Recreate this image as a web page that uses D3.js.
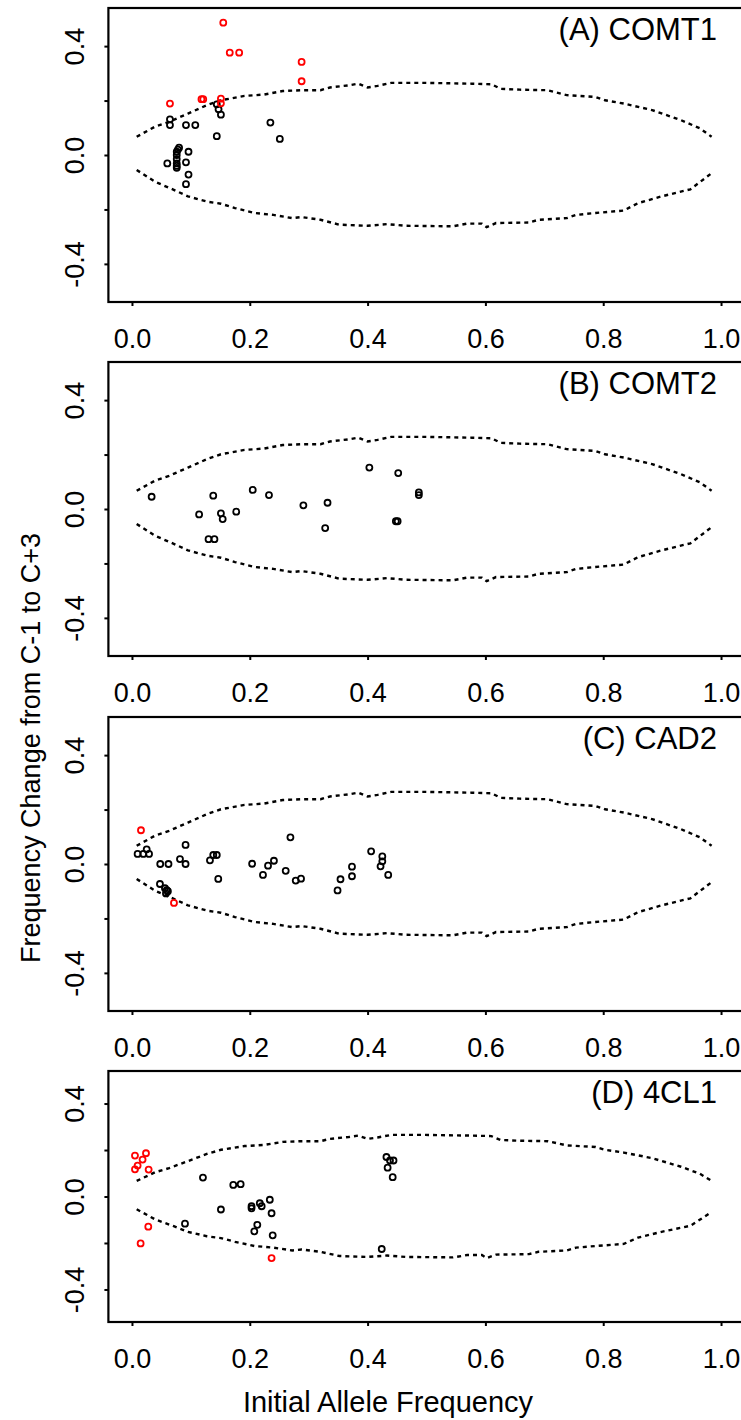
<!DOCTYPE html>
<html><head><meta charset="utf-8">
<script src="https://cdn.jsdelivr.net/npm/d3@7"></script>
<style>html,body{margin:0;padding:0;background:#fff;} svg{display:block;} text{font-family:"Liberation Sans",Arial,sans-serif;fill:#000;}</style>
</head><body>
<script>
// ---- data ----
const xTicks = [0, 0.2, 0.4, 0.6, 0.8, 1.0];
const xTickLabels = ["0.0", "0.2", "0.4", "0.6", "0.8", "1.0"];
const yTicks = [-0.4, -0.2, 0, 0.2, 0.4];
const yTickLabels = ["-0.4", "", "0.0", "", "0.4"];
const panelLabels = ["(A) COMT1", "(B) COMT2", "(C) CAD2", "(D) 4CL1"];
const xTitle = "Initial Allele Frequency";
const yTitle = "Frequency Change from C-1 to C+3";

// envelope (dotted boundary)
const envUpperX = [0.008,0.039,0.063,0.095,0.127,0.151,0.191,0.224,0.256,0.288,0.32,0.336,0.368,0.384,0.4,0.417,0.44,0.497,0.577,0.61,0.626,0.658,0.706,0.738,0.787,0.803,0.835,0.883,0.932,0.964,0.984];
const envUpperY = [0.067,0.104,0.122,0.152,0.183,0.201,0.217,0.222,0.235,0.238,0.238,0.248,0.256,0.262,0.248,0.254,0.265,0.265,0.262,0.26,0.243,0.24,0.238,0.22,0.213,0.201,0.189,0.165,0.128,0.098,0.067];
const envLowerX = [0.008,0.039,0.071,0.095,0.127,0.151,0.175,0.208,0.24,0.272,0.288,0.32,0.352,0.4,0.433,0.465,0.545,0.569,0.594,0.602,0.618,0.674,0.69,0.738,0.754,0.787,0.835,0.859,0.899,0.948,0.984];
const envLowerY = [-0.055,-0.098,-0.128,-0.152,-0.171,-0.179,-0.195,-0.213,-0.22,-0.232,-0.228,-0.238,-0.256,-0.26,-0.254,-0.26,-0.262,-0.252,-0.252,-0.265,-0.25,-0.248,-0.238,-0.232,-0.22,-0.213,-0.204,-0.177,-0.152,-0.126,-0.067];

// (A) COMT1
const comt1BlackX = [0.0645,0.0645,0.0917,0.1075,0.144,0.147,0.151,0.144,0.235,0.251,0.080,0.076,0.096,0.076,0.076,0.060,0.076,0.0917,0.076,0.096,0.0917,0.078,0.076];
const comt1BlackY = [0.131,0.110,0.110,0.110,0.186,0.168,0.148,0.069,0.119,0.059,0.027,0.012,0.012,0.0,-0.015,-0.031,-0.031,-0.027,-0.047,-0.072,-0.107,0.020,-0.040];
const comt1RedX = [0.155,0.166,0.182,0.288,0.288,0.0645,0.118,0.121,0.151,0.151];
const comt1RedY = [0.486,0.376,0.376,0.342,0.271,0.189,0.205,0.205,0.207,0.190];

// (B) COMT2
const comt2BlackX = [0.0334,0.114,0.138,0.151,0.154,0.177,0.130,0.140,0.205,0.2326,0.291,0.332,0.328,0.403,0.452,0.448,0.451,0.487,0.487];
const comt2BlackY = [0.045,-0.020,0.049,-0.016,-0.037,-0.010,-0.111,-0.111,0.070,0.051,0.0135,0.023,-0.070,0.152,0.132,-0.045,-0.045,0.061,0.051];
const comt2RedX = [];
const comt2RedY = [];

// (C) CAD2
const cad2BlackX = [0.0096,0.0193,0.025,0.029,0.048,0.062,0.0815,0.091,0.091,0.0475,0.056,0.059,0.0577,0.061,0.1324,0.138,0.144,0.1465,0.204,0.2224,0.231,0.241,0.261,0.269,0.278,0.287,0.349,0.354,0.3735,0.3735,0.406,0.425,0.425,0.422,0.435];
const cad2BlackY = [0.037,0.037,0.054,0.037,0.0,0.0,0.018,0.070,0.0,-0.0735,-0.089,-0.096,-0.108,-0.100,0.0135,0.033,0.033,-0.055,0.001,-0.040,-0.006,0.012,-0.025,0.098,-0.061,-0.054,-0.097,-0.056,-0.010,-0.045,0.0466,0.028,0.010,-0.0085,-0.040];
const cad2RedX = [0.0153,0.0713];
const cad2RedY = [0.124,-0.143];

// (D) 4CL1
const cl1BlackX = [0.1205,0.172,0.1845,0.151,0.090,0.203,0.203,0.217,0.2202,0.234,0.237,0.2128,0.2077,0.2389,0.432,0.438,0.444,0.434,0.4426,0.424];
const cl1BlackY = [0.0815,0.050,0.053,-0.056,-0.117,-0.042,-0.051,-0.029,-0.042,-0.014,-0.072,-0.122,-0.150,-0.167,0.170,0.155,0.155,0.124,0.083,-0.226];
const cl1RedX = [0.0051,0.0238,0.018,0.0096,0.0051,0.0283,0.0277,0.0147,0.237];
const cl1RedY = [0.176,0.186,0.159,0.133,0.117,0.116,-0.130,-0.202,-0.265];

const panels = [
  {label: panelLabels[0], bx: comt1BlackX, by: comt1BlackY, rx: comt1RedX, ry: comt1RedY, top: 8, bottom: 302},
  {label: panelLabels[1], bx: comt2BlackX, by: comt2BlackY, rx: comt2RedX, ry: comt2RedY, top: 362, bottom: 656},
  {label: panelLabels[2], bx: cad2BlackX, by: cad2BlackY, rx: cad2RedX, ry: cad2RedY, top: 717, bottom: 1011},
  {label: panelLabels[3], bx: cl1BlackX, by: cl1BlackY, rx: cl1RedX, ry: cl1RedY, top: 1071, bottom: 1322}
];

// ---- drawing ----
const W = 741, H = 1420;
const FONT = "'Liberation Sans', Arial, sans-serif";
const svg = d3.select("body").append("svg").attr("width", W).attr("height", H);
const x = d3.scaleLinear().domain([-0.04, 1.04]).range([108.4, 744.6]);
const upper = d3.zip(envUpperX, envUpperY);
const lower = d3.zip(envLowerX, envLowerY);

panels.forEach(p => {
  const y = d3.scaleLinear().domain([-0.54, 0.54]).range([p.bottom, p.top]);
  const g = svg.append("g");
  g.append("rect").attr("x", x.range()[0]).attr("y", p.top)
    .attr("width", x.range()[1] - x.range()[0]).attr("height", p.bottom - p.top)
    .attr("fill", "none").attr("stroke", "#000").attr("stroke-width", 2.2);

  // x axis
  const xa = g.append("g").attr("transform", `translate(0,${p.bottom})`)
    .call(d3.axisBottom(x).tickValues(xTicks).tickSize(4).tickFormat((d, i) => xTickLabels[i]));
  xa.select(".domain").remove();
  xa.selectAll("line").attr("stroke", "#000").attr("stroke-width", 2);
  xa.selectAll("text").attr("font-size", 27).attr("dy", null).attr("y", 46)
    .style("font-family", FONT);

  // y axis
  const ya = g.append("g").attr("transform", `translate(${x.range()[0]},0)`)
    .call(d3.axisLeft(y).tickValues(yTicks).tickSize(4).tickFormat((d, i) => yTickLabels[i]));
  ya.select(".domain").remove();
  ya.selectAll("line").attr("stroke", "#000").attr("stroke-width", 2);
  ya.selectAll("text").attr("font-size", 27).attr("x", null).attr("dy", null)
    .attr("text-anchor", "middle")
    .attr("transform", "translate(-34,0) rotate(-90)")
    .attr("y", 0).attr("dy", "0.35em")
    .style("font-family", FONT);

  // envelope
  const line = d3.line().x(d => x(d[0])).y(d => y(d[1]));
  [upper, lower].forEach(env => {
    g.append("path").attr("d", line(env)).attr("fill", "none")
      .attr("stroke", "#000").attr("stroke-width", 2.4).attr("stroke-dasharray", "4,4");
  });

  // points
  g.selectAll(".b").data(d3.zip(p.bx, p.by)).enter().append("circle")
    .attr("cx", d => x(d[0])).attr("cy", d => y(d[1])).attr("r", 3)
    .attr("fill", "none").attr("stroke", "#000").attr("stroke-width", 1.8);
  g.selectAll(".r").data(d3.zip(p.rx, p.ry)).enter().append("circle")
    .attr("cx", d => x(d[0])).attr("cy", d => y(d[1])).attr("r", 3)
    .attr("fill", "none").attr("stroke", "#ff0000").attr("stroke-width", 1.8);

  // panel label
  g.append("text").attr("x", 717).attr("y", p.top + 32).attr("text-anchor", "end")
    .attr("font-size", 31).text(p.label);
});

svg.append("text").attr("x", 388).attr("y", 1412).attr("text-anchor", "middle")
  .attr("font-size", 29).text(xTitle);
svg.append("text").attr("transform", "translate(40,748) rotate(-90)")
  .attr("text-anchor", "middle").attr("font-size", 27).text(yTitle);
</script>
</body></html>
